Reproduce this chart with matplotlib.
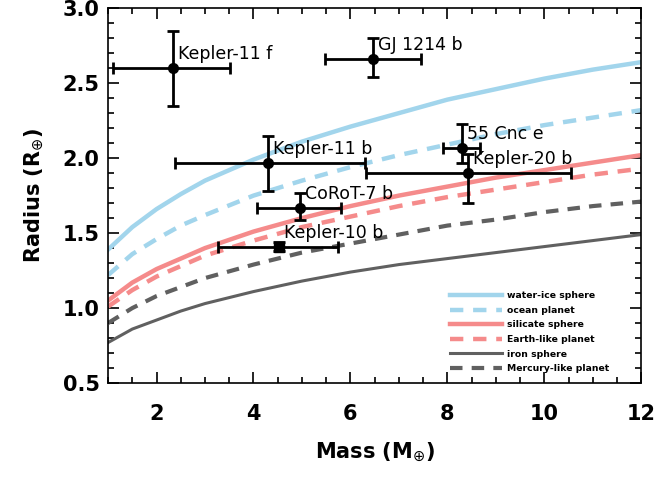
import matplotlib.pyplot as plt
import matplotlib.ticker as mticker

plt.rcParams['font.family'] = ['DejaVu Sans']

# model curves (mass in Earth masses -> radius in Earth radii)
mass_grid = [1, 1.5, 2, 2.5, 3, 4, 5, 6, 7, 8, 9, 10, 11, 12]
water_ice = [1.39, 1.54, 1.66, 1.76, 1.85, 1.99, 2.11, 2.21, 2.30, 2.39, 2.46, 2.53, 2.59, 2.64]
ocean = [1.22, 1.36, 1.46, 1.55, 1.62, 1.75, 1.85, 1.94, 2.02, 2.09, 2.16, 2.22, 2.27, 2.32]
silicate = [1.05, 1.17, 1.26, 1.33, 1.40, 1.51, 1.60, 1.68, 1.75, 1.81, 1.87, 1.92, 1.97, 2.02]
earth_like = [1.01, 1.12, 1.21, 1.28, 1.35, 1.45, 1.54, 1.61, 1.68, 1.74, 1.79, 1.84, 1.89, 1.93]
iron = [0.77, 0.86, 0.92, 0.98, 1.03, 1.11, 1.18, 1.24, 1.29, 1.33, 1.37, 1.41, 1.45, 1.49]
mercury_like = [0.90, 1.00, 1.08, 1.14, 1.20, 1.29, 1.37, 1.43, 1.49, 1.55, 1.59, 1.64, 1.68, 1.71]

# planets
names = ['Kepler-11 f', 'GJ 1214 b', 'Kepler-11 b', '55 Cnc e',
         'Kepler-20 b', 'CoRoT-7 b', 'Kepler-10 b']
p_mass = [2.33, 6.46, 4.30, 8.30, 8.42, 4.96, 4.53]
p_mass_lo = [1.23, 0.99, 1.92, 0.39, 2.10, 0.89, 1.26]
p_mass_hi = [1.19, 0.99, 2.00, 0.37, 2.13, 0.84, 1.21]
p_rad = [2.60, 2.66, 1.97, 2.07, 1.90, 1.67, 1.41]
p_rad_lo = [0.25, 0.12, 0.19, 0.10, 0.20, 0.08, 0.03]
p_rad_hi = [0.25, 0.14, 0.18, 0.16, 0.13, 0.10, 0.03]

blue = '#a2d5ec'
red = '#f58b8b'
grey = '#606060'

fig = plt.figure(figsize=(6.55, 4.80), dpi=100)
ax = fig.add_axes([0.165, 0.202, 0.814, 0.781])

ax.plot(mass_grid, water_ice, color=blue, lw=3.2, label='water-ice sphere')
ax.plot(mass_grid, ocean, color=blue, lw=3.2, ls=(0, (3, 2.2)), label='ocean planet')
ax.plot(mass_grid, silicate, color=red, lw=3.2, label='silicate sphere')
ax.plot(mass_grid, earth_like, color=red, lw=3.2, ls=(0, (3, 2.2)), label='Earth-like planet')
ax.plot(mass_grid, iron, color=grey, lw=2.2, label='iron sphere')
ax.plot(mass_grid, mercury_like, color=grey, lw=3, ls=(0, (3, 2.2)), label='Mercury-like planet')

for i in range(len(names)):
    marker = 's' if names[i] == 'Kepler-10 b' else 'o'
    ax.errorbar(p_mass[i], p_rad[i],
                xerr=[[p_mass_lo[i]], [p_mass_hi[i]]],
                yerr=[[p_rad_lo[i]], [p_rad_hi[i]]],
                fmt=marker, color='black', ms=7, elinewidth=2, capsize=4,
                capthick=2, zorder=5)
    ax.annotate(names[i], (p_mass[i], p_rad[i]), xytext=(5, 14),
                textcoords='offset pixels', fontsize=12.5, color='black',
                va='center', ha='left', zorder=6)

ax.set_xlim(1, 12)
ax.set_ylim(0.5, 3.0)
ax.xaxis.set_major_locator(mticker.MultipleLocator(2))
ax.xaxis.set_minor_locator(mticker.MultipleLocator(0.5))
ax.yaxis.set_major_locator(mticker.MultipleLocator(0.5))
ax.yaxis.set_minor_locator(mticker.MultipleLocator(0.1))
ax.yaxis.set_major_formatter(mticker.FormatStrFormatter('%.1f'))
ax.tick_params(which='both', direction='in', top=True, right=True, width=1.2)
ax.tick_params(which='major', length=8, labelsize=15)
ax.tick_params(axis='x', which='major', pad=15)
ax.tick_params(axis='y', which='major', pad=6)
ax.tick_params(which='minor', length=4)
for lab in ax.get_xticklabels() + ax.get_yticklabels():
    lab.set_fontweight('bold')
for s in ax.spines.values():
    s.set_linewidth(1.2)

ax.set_xlabel(r'Mass (M$_{\oplus}$)', fontsize=15, fontweight='bold', labelpad=12)
ax.set_ylabel(r'Radius (R$_{\oplus}$)', fontsize=15, fontweight='bold', labelpad=12)

leg = ax.legend(loc='lower right', bbox_to_anchor=(0.955, 0.004), frameon=False,
                prop={'size': 6.7, 'weight': 'bold'}, handlelength=5.6,
                handletextpad=0.5, labelspacing=0.6)

fig.savefig('out.png', dpi=100)
